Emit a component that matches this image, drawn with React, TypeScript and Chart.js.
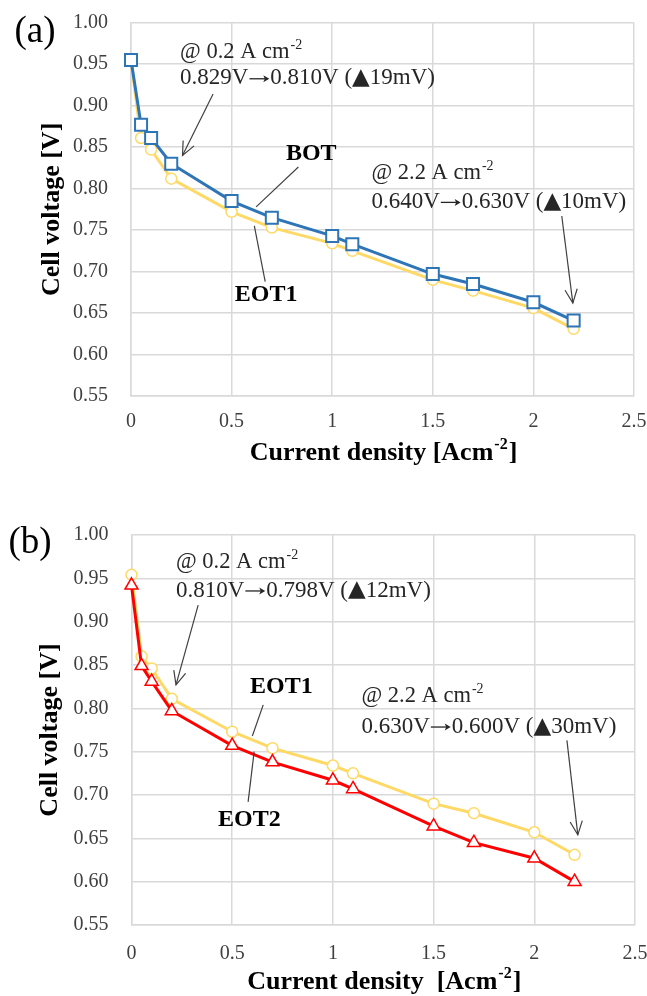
import React, { useEffect, useRef } from "react";
import { Chart, registerables } from "chart.js";
Chart.register(...registerables);

const W = 647;
const H = 498;
const SERIF = '"Liberation Serif", "Times New Roman", Times, serif';
const SYMBOL = '"DejaVu Sans", sans-serif';

// ---- data ----
const CURRENT_DENSITY = [0, 0.05, 0.1, 0.2, 0.5, 0.7, 1.0, 1.1, 1.5, 1.7, 2.0, 2.2];
const A_BOT = [0.955, 0.877, 0.861, 0.83, 0.785, 0.765, 0.743, 0.733, 0.697, 0.685, 0.663, 0.641];
const A_EOT1 = [0.955, 0.861, 0.847, 0.812, 0.772, 0.753, 0.734, 0.725, 0.69, 0.677, 0.656, 0.631];
const B_EOT1 = [0.954, 0.86, 0.846, 0.811, 0.773, 0.754, 0.734, 0.725, 0.69, 0.679, 0.657, 0.631];
const B_EOT2 = [0.942, 0.849, 0.831, 0.797, 0.757, 0.738, 0.717, 0.707, 0.664, 0.645, 0.627, 0.6];
const X_TICKS = [0, 0.5, 1, 1.5, 2, 2.5];
const Y_TICKS = [0.55, 0.6, 0.65, 0.7, 0.75, 0.8, 0.85, 0.9, 0.95, 1.0];

const BLUE = "#2E75B6";
const YELLOW = "#FFD966";
const RED = "#FF0000";
const GRID = "#D9D9D9";
const INK = "#262626";

type Note = { x: number; y1: number; y2: number; head: string; sup: string; body: string };
type Arrow = { from: [number, number]; to: [number, number]; head: boolean };
type Label = { x: number; y: number; text: string };

type PanelCfg = {
  tag: string;
  tagPos: [number, number];
  top: number;
  bottom: number;
  left: number;
  right: number;
  yTitleX: number;
  xTitleY: number;
  xTitle: string;
  xTickPad: number;
  datasets: any[];
  notes: Note[];
  arrows: Arrow[];
  labels: Label[];
};

const pts = (ys: number[]) => CURRENT_DENSITY.map((x, i) => ({ x, y: ys[i] }));

const squareSeries = (ys: number[]) => ({
  data: pts(ys),
  borderColor: BLUE,
  borderWidth: 3,
  pointStyle: "rect",
  pointRadius: 8.5,
  pointBorderWidth: 2,
  pointBackgroundColor: "#fff",
  pointBorderColor: BLUE,
  tension: 0,
  clip: false,
});
const circleSeries = (ys: number[]) => ({
  data: pts(ys),
  borderColor: YELLOW,
  borderWidth: 3,
  pointStyle: "circle",
  pointRadius: 5.5,
  pointBorderWidth: 1.5,
  pointBackgroundColor: "#fff",
  pointBorderColor: YELLOW,
  tension: 0,
  clip: false,
});
const triangleSeries = (ys: number[]) => ({
  data: pts(ys),
  borderColor: RED,
  borderWidth: 3,
  pointStyle: "triangle",
  pointRadius: 7.5,
  pointBorderWidth: 1.5,
  pointBackgroundColor: "#fff",
  pointBorderColor: RED,
  tension: 0,
  clip: false,
});

const PANEL_A: PanelCfg = {
  tag: "(a)",
  tagPos: [35, 32],
  top: 22.7,
  bottom: 396,
  left: 131,
  right: 634,
  yTitleX: 52,
  xTitleY: 453,
  xTitle: "Current density [Acm",
  xTickPad: 14,
  datasets: [squareSeries(A_BOT), circleSeries(A_EOT1)],
  notes: [
    { x: 0.244, y1: 0.965, y2: 0.933, head: "@ 0.2 A cm", sup: "-2", body: "0.829V→0.810V (▲19mV)" },
    { x: 1.195, y1: 0.819, y2: 0.784, head: "@ 2.2 A cm", sup: "-2", body: "0.640V→0.630V (▲10mV)" },
  ],
  arrows: [
    { from: [0.408, 0.914], to: [0.256, 0.84], head: true },
    { from: [2.141, 0.767], to: [2.196, 0.662], head: true },
    { from: [0.832, 0.826], to: [0.622, 0.778], head: false },
    { from: [0.667, 0.688], to: [0.613, 0.755], head: false },
  ],
  labels: [
    { x: 0.896, y: 0.842, text: "BOT" },
    { x: 0.672, y: 0.672, text: "EOT1" },
  ],
};

const PANEL_B: PanelCfg = {
  tag: "(b)",
  tagPos: [30, 45],
  top: 37,
  bottom: 427,
  left: 131.5,
  right: 635,
  yTitleX: 50,
  xTitleY: 484,
  xTitle: "Current density  [Acm",
  xTickPad: 17,
  datasets: [triangleSeries(B_EOT2), circleSeries(B_EOT1)],
  notes: [
    { x: 0.221, y1: 0.969, y2: 0.936, head: "@ 0.2 A cm", sup: "-2", body: "0.810V→0.798V (▲12mV)" },
    { x: 1.142, y1: 0.814, y2: 0.779, head: "@ 2.2 A cm", sup: "-2", body: "0.630V→0.600V (▲30mV)" },
  ],
  arrows: [
    { from: [0.331, 0.919], to: [0.221, 0.827], head: true },
    { from: [2.162, 0.763], to: [2.216, 0.654], head: true },
    { from: [0.654, 0.804], to: [0.6, 0.768], head: false },
    { from: [0.579, 0.692], to: [0.609, 0.75], head: false },
  ],
  labels: [
    { x: 0.744, y: 0.825, text: "EOT1" },
    { x: 0.585, y: 0.671, text: "EOT2" },
  ],
};

function font(size: number, bold: boolean, fam: string = SERIF) {
  return `${bold ? "bold " : ""}${size}px ${fam}`;
}

function drawSup(
  ctx: CanvasRenderingContext2D,
  base: string,
  sup: string,
  tail: string,
  x: number,
  y: number,
  size: number,
  bold: boolean,
  align: "left" | "center"
) {
  const ss = Math.round(size * 0.62);
  ctx.font = font(size, bold);
  const wb = ctx.measureText(base).width;
  const wt = tail ? ctx.measureText(tail).width : 0;
  ctx.font = font(ss, bold);
  const ws = ctx.measureText(sup).width;
  const sx = align === "center" ? x - (wb + ws + wt) / 2 : x;
  ctx.textAlign = "left";
  ctx.textBaseline = "middle";
  ctx.font = font(size, bold);
  ctx.fillText(base, sx, y);
  ctx.font = font(ss, bold);
  ctx.fillText(sup, sx + wb + 1, y - size * 0.3);
  if (tail) {
    ctx.font = font(size, bold);
    ctx.fillText(tail, sx + wb + ws + 2, y);
  }
}

// draws a line of text; the arrow is drawn as a thin stroke, the triangle with a symbol font
function drawMixed(ctx: CanvasRenderingContext2D, text: string, x: number, y: number, size: number) {
  ctx.textAlign = "left";
  ctx.textBaseline = "middle";
  let cx = x;
  let buf = "";
  const flush = () => {
    if (!buf) return;
    ctx.font = font(size, false);
    ctx.fillText(buf, cx, y);
    cx += ctx.measureText(buf).width;
    buf = "";
  };
  for (const ch of text) {
    if (ch === "→") {
      flush();
      const len = size * 0.95;
      const ay = y + 0.5;
      const x0 = cx + 1;
      const x1 = cx + len - 1;
      ctx.save();
      ctx.strokeStyle = ctx.fillStyle as string;
      ctx.lineWidth = 1.3;
      ctx.beginPath();
      ctx.moveTo(x0, ay);
      ctx.lineTo(x1 - 2, ay);
      ctx.stroke();
      ctx.beginPath();
      ctx.moveTo(x1, ay);
      ctx.lineTo(x1 - 6, ay - 3.5);
      ctx.lineTo(x1 - 4.5, ay);
      ctx.lineTo(x1 - 6, ay + 3.5);
      ctx.closePath();
      ctx.fill();
      ctx.restore();
      cx += len;
    } else if (ch === "▲") {
      flush();
      ctx.font = font(size, false, SYMBOL);
      ctx.fillText(ch, cx, y);
      cx += ctx.measureText(ch).width;
    } else {
      buf += ch;
    }
  }
  flush();
}

function drawArrow(ctx: CanvasRenderingContext2D, x1: number, y1: number, x2: number, y2: number, head: boolean) {
  ctx.save();
  ctx.strokeStyle = "#404040";
  ctx.lineWidth = 1.2;
  ctx.beginPath();
  ctx.moveTo(x1, y1);
  ctx.lineTo(x2, y2);
  ctx.stroke();
  if (head) {
    const ang = Math.atan2(y2 - y1, x2 - x1);
    const L = 15;
    const a = 0.42;
    ctx.beginPath();
    ctx.moveTo(x2 - L * Math.cos(ang - a), y2 - L * Math.sin(ang - a));
    ctx.lineTo(x2, y2);
    ctx.lineTo(x2 - L * Math.cos(ang + a), y2 - L * Math.sin(ang + a));
    ctx.stroke();
  }
  ctx.restore();
}

const zeroPad = (s: any) => {
  s.paddingTop = 0;
  s.paddingBottom = 0;
  s.paddingLeft = 0;
  s.paddingRight = 0;
};

function Panel({ cfg }: { cfg: PanelCfg }) {
  const ref = useRef<HTMLCanvasElement>(null);
  useEffect(() => {
    const decor = {
      id: "decor",
      afterDraw(chart: any) {
        const ctx: CanvasRenderingContext2D = chart.ctx;
        const xs = chart.scales.x;
        const ys = chart.scales.y;
        const ca = chart.chartArea;
        ctx.save();
        ctx.fillStyle = "#000";
        // panel tag
        ctx.font = font(37, false);
        ctx.textAlign = "center";
        ctx.textBaseline = "middle";
        ctx.fillText(cfg.tag, cfg.tagPos[0], cfg.tagPos[1]);
        // y title
        ctx.save();
        ctx.translate(cfg.yTitleX, (ca.top + ca.bottom) / 2);
        ctx.rotate(-Math.PI / 2);
        ctx.font = font(26, true);
        ctx.textAlign = "center";
        ctx.textBaseline = "middle";
        ctx.fillText("Cell voltage [V]", 0, 0);
        ctx.restore();
        // x title
        drawSup(ctx, cfg.xTitle, "-2", "]", (ca.left + ca.right) / 2, cfg.xTitleY, 26, true, "center");
        // arrows / leaders
        cfg.arrows.forEach((a) => {
          drawArrow(
            ctx,
            xs.getPixelForValue(a.from[0]),
            ys.getPixelForValue(a.from[1]),
            xs.getPixelForValue(a.to[0]),
            ys.getPixelForValue(a.to[1]),
            a.head
          );
        });
        // notes
        ctx.fillStyle = INK;
        cfg.notes.forEach((n) => {
          const px = xs.getPixelForValue(n.x);
          drawSup(ctx, n.head, n.sup, "", px, ys.getPixelForValue(n.y1), 22.5, false, "left");
          drawMixed(ctx, n.body, px, ys.getPixelForValue(n.y2), 23);
        });
        // series labels
        ctx.fillStyle = "#000";
        cfg.labels.forEach((l) => {
          ctx.font = font(24, true);
          ctx.textAlign = "center";
          ctx.textBaseline = "middle";
          ctx.fillText(l.text, xs.getPixelForValue(l.x), ys.getPixelForValue(l.y));
        });
        ctx.restore();
      },
    };

    const chart = new Chart(ref.current as HTMLCanvasElement, {
      type: "line",
      data: { datasets: cfg.datasets },
      plugins: [decor],
      options: {
        responsive: false,
        animation: false,
        events: [],
        layout: { padding: { top: cfg.top, right: W - cfg.right, left: 0, bottom: 0 } },
        plugins: { legend: { display: false }, tooltip: { enabled: false }, title: { display: false } },
        scales: {
          x: {
            type: "linear",
            min: 0,
            max: 2.5,
            afterBuildTicks: (s: any) => {
              s.ticks = X_TICKS.map((v) => ({ value: v }));
            },
            afterFit: (s: any) => {
              s.height = H - cfg.bottom;
              zeroPad(s);
            },
            grid: { color: GRID, lineWidth: 1.5, drawTicks: false },
            border: { color: GRID, width: 1.5 },
            ticks: {
              padding: cfg.xTickPad,
              color: "#404040",
              font: { family: SERIF, size: 20 },
              maxRotation: 0,
              callback: (v: any) => String(v),
            },
          },
          y: {
            type: "linear",
            min: 0.55,
            max: 1.0,
            afterBuildTicks: (s: any) => {
              s.ticks = Y_TICKS.map((v) => ({ value: v }));
            },
            afterFit: (s: any) => {
              s.width = cfg.left;
              zeroPad(s);
            },
            grid: { color: GRID, lineWidth: 1.5, drawTicks: false },
            border: { color: GRID, width: 1.5 },
            ticks: {
              padding: 23,
              color: "#404040",
              font: { family: SERIF, size: 20 },
              callback: (v: any) => Number(v).toFixed(2),
            },
          },
        },
      } as any,
    });
    return () => chart.destroy();
  }, [cfg]);
  return <canvas ref={ref} width={W} height={H} style={{ display: "block", width: W, height: H }} />;
}

export default function App() {
  return (
    <div style={{ position: "absolute", left: 0, top: 0, width: W, height: 2 * H, background: "#fff" }}>
      <Panel cfg={PANEL_A} />
      <Panel cfg={PANEL_B} />
    </div>
  );
}
